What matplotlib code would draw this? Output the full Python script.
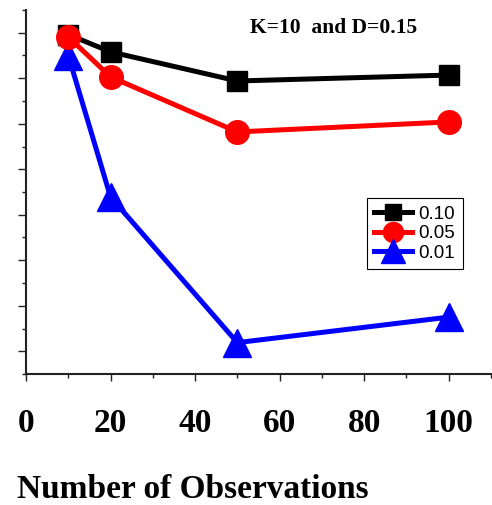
import numpy as np
import matplotlib.pyplot as plt
from matplotlib.ticker import MultipleLocator, FixedLocator

# Data
n_obs = [10, 20, 50, 100]
alpha_010 = [0.746, 0.708, 0.644, 0.657]
alpha_005 = [0.741, 0.653, 0.532, 0.554]
alpha_001 = [0.700, 0.389, 0.069, 0.125]
series_labels = ["0.10", "0.05", "0.01"]
x_ticks = [0, 20, 40, 60, 80, 100]
annot = "K=10  and D=0.15"
x_label = "Number of Observations"

serif = ["Liberation Serif", "DejaVu Serif"]
sans = ["Liberation Sans", "DejaVu Sans"]


def main():
    fig = plt.figure(figsize=(4.92, 5.05), dpi=100)
    ax = fig.add_axes([26 / 492, 131 / 505, 465 / 492, 364 / 505])

    ax.plot(n_obs, alpha_010, color="black", lw=3.6, marker="s", ms=13.7,
            label=series_labels[0], zorder=3)
    ax.plot(n_obs, alpha_005, color="red", lw=3.6, marker="o", ms=17,
            label=series_labels[1], zorder=4)
    ax.plot(n_obs, alpha_001, color="blue", lw=3.6, marker="^", ms=20,
            label=series_labels[2], zorder=2)

    ax.set_xlim(0, 110)
    ax.set_ylim(0, 0.8)

    # Spines
    for side in ["top", "right"]:
        ax.spines[side].set_visible(False)
    for side in ["left", "bottom"]:
        ax.spines[side].set_linewidth(1.5)
        ax.spines[side].set_color("#222222")

    # X ticks
    ax.set_xticks(x_ticks)
    ax.xaxis.set_minor_locator(MultipleLocator(10))
    ax.tick_params(axis="x", which="major", direction="out", length=5.2,
                   width=1.0, color="#222222", pad=19)
    ax.tick_params(axis="x", which="minor", direction="out", length=3.2,
                   width=1.0, color="#222222")
    for lab in ax.get_xticklabels():
        lab.set_fontfamily(serif)
        lab.set_fontweight("bold")
        lab.set_fontsize(24)

    # Y ticks without labels
    ax.yaxis.set_major_locator(FixedLocator(np.arange(0.05, 0.8, 0.1)))
    ax.yaxis.set_minor_locator(FixedLocator(np.arange(0.0, 0.81, 0.1)))
    ax.tick_params(axis="y", which="major", direction="out", length=5.5,
                   width=1.0, color="#222222", labelleft=False)
    ax.tick_params(axis="y", which="minor", direction="out", length=3.2,
                   width=1.0, color="#222222")

    # X label
    ax.set_xlabel(x_label, fontfamily=serif, fontweight="bold", fontsize=24)
    ax.xaxis.set_label_coords(-0.0194, -0.2747)
    ax.xaxis.label.set_ha("left")

    # Annotation
    ax.text(0.4817, 0.937, annot, transform=ax.transAxes, fontfamily=serif,
            fontweight="bold", fontsize=15.5, va="baseline", ha="left")

    leg = ax.legend(loc="upper left", bbox_to_anchor=(0.733, 0.483),
                    borderaxespad=0, prop={"family": sans, "size": 13.5},
                    frameon=True, fancybox=False, framealpha=1,
                    edgecolor="black", handlelength=2.0, handletextpad=0.35,
                    labelspacing=0.12, borderpad=0.4, markerscale=0.85)
    leg.get_frame().set_linewidth(0.8)

    fig.savefig("out.png", dpi=100)


if __name__ == "__main__":
    main()
